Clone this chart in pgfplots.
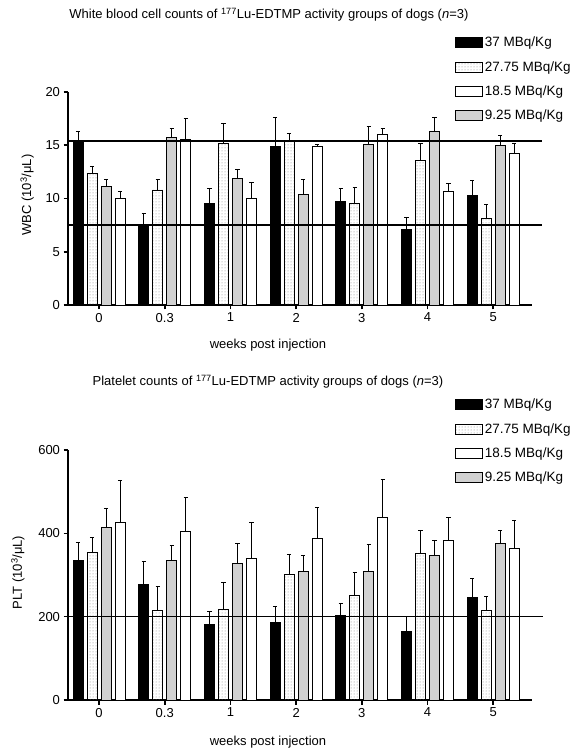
\documentclass[border=0pt]{standalone}
\usepackage{pgfplots}
\pgfplotsset{compat=1.18}
\usepackage{pgfplotstable}
\usepackage{fontspec}
\setmainfont{Liberation Sans}
\usetikzlibrary{patterns}

\pgfplotstableread{
x b be d de g ge w we
0 15.35 0.95 12.35 0.70 11.10 0.70 10.00 0.70
1 7.45 1.15 10.80 1.00 15.70 0.85 15.50 2.00
2 9.55 1.35 15.20 1.80 11.90 0.80 10.05 1.45
3 14.90 2.70 15.40 0.70 10.35 1.45 14.85 0.25
4 9.75 1.15 9.50 1.50 15.05 1.75 16.00 0.55
5 7.10 1.10 13.60 1.60 16.25 1.40 10.70 0.70
6 10.30 1.35 8.10 1.35 15.00 0.90 14.20 1.00
}\wbc

\pgfplotstableread{
x b be d de g ge w we
0 336 42 353 36 414 45 427 101
1 278 54 216 56 336 36 405 81
2 182 30 218 63 328 48 339 87
3 186 38 302 48 308 38 387 75
4 202 29 252 54 308 66 439 90
5 164 36 352 56 348 34 384 54
6 246 46 214 34 376 32 364 68
}\plt

\pgfplotsset{
  panel/.style={
    scale only axis, width=464pt,
    axis lines=left, axis line style={-, line width=1.8pt},
    xmin=-0.472, xmax=6.59,
    xtick={0,...,6}, xticklabels={0,0.3,1,2,3,4,5},
    tick align=outside, major tick length=4.5pt,
    tick style={line width=1.6pt, black},
    ticklabel style={font=\fontsize{13}{15}\selectfont},
    label style={font=\fontsize{13}{15}\selectfont},
    xlabel={weeks post injection},
    every axis title shift=0pt,
    clip=false,
    legend cell align=left,
  },
  bars/.style={ybar, bar width=10pt, bar shift=0pt, draw=black, line width=0.9pt, forget plot,
    error bars/y dir=plus, error bars/y explicit,
    error bars/error bar style={black, line width=1pt},
    error bars/error mark options={black, rotate=90, mark size=2.2pt, line width=1pt}},
}

\begin{document}
\begin{tikzpicture}[x=1pt,y=1pt]
\useasboundingbox (0,0) rectangle (580,751);

\begin{axis}[panel, height=213pt, at={(68pt,446pt)}, anchor=south west,
  ymin=0, ymax=20, ytick={0,5,10,15,20}, yticklabels={0,5,10,15,20},
  ylabel={WBC (10\textsuperscript{3}/μL)},
  ylabel style={at={(axis description cs:-0.088,0.516)}, anchor=center},
  xlabel style={at={(axis description cs:0.431,-0.188)}, anchor=center},
  title={White blood cell counts of \textsuperscript{177}Lu-EDTMP activity groups of dogs (\textit{n}=3)},
  title style={at={(axis description cs:0.433,1.362)}, anchor=center, font=\fontsize{13}{15}\selectfont},
  legend image code/.code={\draw[#1, line width=0.8pt] (0pt,-5pt) rectangle (27pt,5pt);},
  legend style={at={(axis description cs:0.834,1.268)}, anchor=north west, draw=none, fill=none,
    inner sep=0pt, row sep=9pt, font=\fontsize{13.5}{16}\selectfont},
]
\addplot[bars, fill=black] table[x expr=\thisrow{x}-0.3196, y=b, y error=be]{\wbc};
\addplot[bars, pattern=dots, pattern color=gray] table[x expr=\thisrow{x}-0.1065, y=d, y error=de]{\wbc};
\addplot[bars, fill=black!18] table[x expr=\thisrow{x}+0.1065, y=g, y error=ge]{\wbc};
\addplot[bars, fill=white] table[x expr=\thisrow{x}+0.3196, y=w, y error=we]{\wbc};
\addplot[black, line width=1.6pt, mark=none, forget plot] coordinates {(-0.472,15.4) (6.74,15.4)};
\addplot[black, line width=1.6pt, mark=none, forget plot] coordinates {(-0.472,7.5) (6.74,7.5)};
\addlegendimage{fill=black, draw=black}
\addlegendentry{37 MBq/Kg}
\addlegendimage{pattern=dots, pattern color=gray, draw=black}
\addlegendentry{27.75 MBq/Kg}
\addlegendimage{fill=white, draw=black}
\addlegendentry{18.5 MBq/Kg}
\addlegendimage{fill=black!18, draw=black}
\addlegendentry{9.25 MBq/Kg}
\end{axis}

\begin{axis}[panel, height=250pt, at={(68pt,51pt)}, anchor=south west,
  ymin=0, ymax=600, ytick={0,200,400,600}, yticklabels={0,200,400,600},
  ylabel={PLT (10\textsuperscript{3}/μL)},
  ylabel style={at={(axis description cs:-0.108,0.51)}, anchor=center},
  xlabel style={at={(axis description cs:0.431,-0.168)}, anchor=center},
  title={Platelet counts of \textsuperscript{177}Lu-EDTMP activity groups of dogs (\textit{n}=3)},
  title style={at={(axis description cs:0.431,1.272)}, anchor=center, font=\fontsize{13}{15}\selectfont},
  legend image code/.code={\draw[#1, line width=0.8pt] (0pt,-5pt) rectangle (27pt,5pt);},
  legend style={at={(axis description cs:0.834,1.212)}, anchor=north west, draw=none, fill=none,
    inner sep=0pt, row sep=9pt, font=\fontsize{13.5}{16}\selectfont},
]
\addplot[bars, fill=black] table[x expr=\thisrow{x}-0.3196, y=b, y error=be]{\plt};
\addplot[bars, pattern=dots, pattern color=gray] table[x expr=\thisrow{x}-0.1065, y=d, y error=de]{\plt};
\addplot[bars, fill=black!18] table[x expr=\thisrow{x}+0.1065, y=g, y error=ge]{\plt};
\addplot[bars, fill=white] table[x expr=\thisrow{x}+0.3196, y=w, y error=we]{\plt};
\addplot[black, line width=1.6pt, mark=none, forget plot] coordinates {(-0.472,200) (6.76,200)};
\addlegendimage{fill=black, draw=black}
\addlegendentry{37 MBq/Kg}
\addlegendimage{pattern=dots, pattern color=gray, draw=black}
\addlegendentry{27.75 MBq/Kg}
\addlegendimage{fill=white, draw=black}
\addlegendentry{18.5 MBq/Kg}
\addlegendimage{fill=black!18, draw=black}
\addlegendentry{9.25 MBq/Kg}
\end{axis}
\end{tikzpicture}
\end{document}
